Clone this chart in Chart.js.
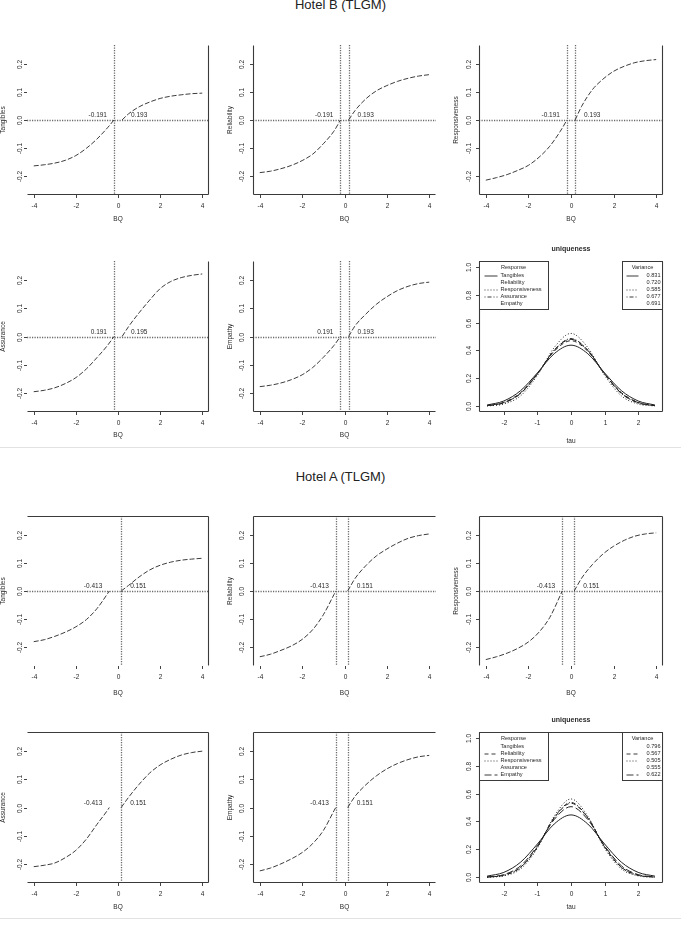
<!DOCTYPE html>
<html>
<head>
<meta charset="utf-8">
<script src="https://cdn.jsdelivr.net/npm/chart.js@4.4.1/dist/chart.umd.min.js"></script>
<style>
body { margin: 0; background: #fff; width: 681px; height: 933px; position: relative; overflow: hidden; font-family: "Liberation Sans", Arial, sans-serif; }
.title { position: absolute; left: 0; width: 681px; text-align: center; font-size: 13px; line-height: 16px; color: #222; }
.sep { position: absolute; left: 0; width: 681px; height: 1px; background: #e2e2e2; }
canvas { position: absolute; }
</style>
</head>
<body>
<div class="title" style="top:-3px">Hotel B (TLGM)</div>
<div class="sep" style="top:447px"></div>
<div class="title" style="top:469px">Hotel A (TLGM)</div>
<div class="sep" style="top:918px"></div>
<script>
// shared axes
const dims = ["Tangibles", "Reliability", "Responsiveness", "Assurance", "Empathy"];
const bqLowX = [-4, -3.5, -3, -2.5, -2, -1.5, -1, -0.5];
const bqHighX = [0.5, 1, 1.5, 2, 2.5, 3, 3.5, 4];
const bqTicks = [-4, -2, 0, 2, 4];
const bqTickLabels = ["-4", "-2", "0", "2", "4"];
const effTicks = [-0.2, -0.1, 0, 0.1, 0.2];
const effTickLabels = ["-0.2", "-0.1", "0.0", "0.1", "0.2"];
const tauX = [-2.5, -2, -1.5, -1, -0.5, 0, 0.5, 1, 1.5, 2, 2.5];
const tauTicks = [-2, -1, 0, 1, 2];
const densTicks = [0, 0.2, 0.4, 0.6, 0.8, 1.0];
const densTickLabels = ["0.0", "0.2", "0.4", "0.6", "0.8", "1.0"];

// Hotel B
const bThrLow = [-0.191, -0.191, -0.191, -0.191, -0.191];
const bThrHigh = [0.193, 0.193, 0.193, 0.195, 0.193];
const bLowText = ["-0.191", "-0.191", "-0.191", "0.191", "0.191"];
const bHighText = ["0.193", "0.193", "0.193", "0.195", "0.193"];
const bTangLow = [-0.164, -0.160, -0.154, -0.144, -0.127, -0.101, -0.068, -0.028];
const bTangHigh = [0.022, 0.047, 0.064, 0.077, 0.085, 0.090, 0.094, 0.096];
const bRelLow = [-0.188, -0.183, -0.174, -0.162, -0.145, -0.122, -0.085, -0.040];
const bRelHigh = [0.034, 0.075, 0.104, 0.123, 0.138, 0.149, 0.157, 0.162];
const bRespLow = [-0.215, -0.206, -0.195, -0.180, -0.162, -0.133, -0.094, -0.040];
const bRespHigh = [0.049, 0.108, 0.146, 0.174, 0.192, 0.205, 0.212, 0.216];
const bAssLow = [-0.196, -0.191, -0.182, -0.167, -0.146, -0.115, -0.075, -0.032];
const bAssHigh = [0.035, 0.084, 0.129, 0.170, 0.195, 0.209, 0.217, 0.222];
const bEmpLow = [-0.178, -0.173, -0.165, -0.153, -0.136, -0.110, -0.074, -0.032];
const bEmpHigh = [0.038, 0.079, 0.114, 0.141, 0.163, 0.178, 0.188, 0.193];
const bVariance = ["0.831", "0.720", "0.585", "0.677", "0.691"];
const bDens = [
  [0.010, 0.039, 0.113, 0.240, 0.377, 0.438, 0.377, 0.240, 0.113, 0.039, 0.010],
  [0.006, 0.029, 0.099, 0.235, 0.395, 0.470, 0.395, 0.235, 0.099, 0.029, 0.006],
  [0.003, 0.017, 0.076, 0.222, 0.421, 0.522, 0.421, 0.222, 0.076, 0.017, 0.003],
  [0.005, 0.025, 0.092, 0.232, 0.403, 0.485, 0.403, 0.232, 0.092, 0.025, 0.005],
  [0.005, 0.027, 0.094, 0.233, 0.401, 0.480, 0.401, 0.233, 0.094, 0.027, 0.005]
];

// Hotel A
const aThrLow = [-0.413, -0.413, -0.413, -0.413, -0.413];
const aThrHigh = [0.151, 0.151, 0.151, 0.151, 0.151];
const aLowText = ["-0.413", "-0.413", "-0.413", "-0.413", "-0.413"];
const aHighText = ["0.151", "0.151", "0.151", "0.151", "0.151"];
const aTangLow = [-0.181, -0.174, -0.162, -0.147, -0.128, -0.102, -0.063, -0.010];
const aTangHigh = [0.020, 0.050, 0.075, 0.092, 0.103, 0.110, 0.114, 0.117];
const aRelLow = [-0.235, -0.226, -0.212, -0.196, -0.173, -0.138, -0.085, -0.013];
const aRelHigh = [0.045, 0.090, 0.125, 0.150, 0.171, 0.188, 0.198, 0.204];
const aRespLow = [-0.245, -0.235, -0.222, -0.205, -0.182, -0.147, -0.095, -0.015];
const aRespHigh = [0.046, 0.094, 0.132, 0.160, 0.181, 0.196, 0.204, 0.208];
const aAssLow = [-0.210, -0.205, -0.197, -0.178, -0.152, -0.112, -0.060, -0.010];
const aAssHigh = [0.036, 0.082, 0.122, 0.151, 0.171, 0.186, 0.195, 0.200];
const aEmpLow = [-0.225, -0.215, -0.200, -0.182, -0.160, -0.128, -0.082, -0.012];
const aEmpHigh = [0.040, 0.080, 0.112, 0.137, 0.156, 0.170, 0.180, 0.185];
const aVariance = ["0.796", "0.567", "0.505", "0.555", "0.622"];
const aDens = [
  [0.009, 0.036, 0.109, 0.239, 0.382, 0.447, 0.382, 0.239, 0.109, 0.036, 0.009],
  [0.002, 0.016, 0.073, 0.219, 0.425, 0.530, 0.425, 0.219, 0.073, 0.016, 0.002],
  [0.001, 0.011, 0.061, 0.209, 0.438, 0.561, 0.438, 0.209, 0.061, 0.011, 0.001],
  [0.002, 0.015, 0.071, 0.218, 0.428, 0.536, 0.428, 0.218, 0.071, 0.015, 0.002],
  [0.003, 0.020, 0.083, 0.226, 0.414, 0.506, 0.414, 0.226, 0.083, 0.020, 0.003]
];

const lineDashes = [[], [4, 3], [1, 2], [1, 2, 4, 2], [7, 3]];
const ink = "#2a2a2a";
const font = px => px + 'px "Liberation Sans", Arial, sans-serif';

// R-like axes, boxes, notes and legends
const rAxes = {
  id: "rAxes",
  beforeDatasetsDraw(chart, args, o) {
    const { ctx, chartArea: a, scales: { x, y } } = chart;
    ctx.save();
    ctx.strokeStyle = "#6a6a6a";
    ctx.lineWidth = 1.3;
    ctx.setLineDash([1.2, 1.3]);
    if (o.hZero) {
      const py = Math.round(y.getPixelForValue(0)) + 0.5;
      ctx.beginPath(); ctx.moveTo(a.left, py); ctx.lineTo(a.right, py); ctx.stroke();
    }
    (o.vLines || []).forEach(v => {
      const px = Math.round(x.getPixelForValue(v)) + 0.5;
      ctx.beginPath(); ctx.moveTo(px, a.top); ctx.lineTo(px, a.bottom); ctx.stroke();
    });
    ctx.restore();
  },
  afterDraw(chart, args, o) {
    const { ctx, chartArea: a, scales: { x, y } } = chart;
    ctx.save();
    ctx.strokeStyle = "#3a3a3a";
    ctx.lineWidth = 1.1;
    const L = Math.round(a.left) + 0.5, R = Math.round(a.right) - 0.5;
    const T = Math.round(a.top) + 0.5, B = Math.round(a.bottom) - 0.5;
    ctx.beginPath();
    if (o.sides.includes("t")) { ctx.moveTo(L, T); ctx.lineTo(R, T); }
    if (o.sides.includes("b")) { ctx.moveTo(L, B); ctx.lineTo(R, B); }
    if (o.sides.includes("l")) { ctx.moveTo(L, T); ctx.lineTo(L, B); }
    if (o.sides.includes("r")) { ctx.moveTo(R, T); ctx.lineTo(R, B); }
    ctx.stroke();

    ctx.fillStyle = ink;
    ctx.strokeStyle = "#444";
    ctx.lineWidth = 1;
    ctx.font = font(6.5);
    // x ticks
    ctx.textAlign = "center"; ctx.textBaseline = "middle";
    o.xTicks.forEach((v, i) => {
      const px = Math.round(x.getPixelForValue(v)) + 0.5;
      ctx.beginPath(); ctx.moveTo(px, a.bottom); ctx.lineTo(px, a.bottom + 3); ctx.stroke();
      ctx.fillText(o.xLabels[i], px, a.bottom + 11.5);
    });
    // y ticks (rotated like R)
    o.yTicks.forEach((v, i) => {
      const py = Math.round(y.getPixelForValue(v)) + 0.5;
      ctx.beginPath(); ctx.moveTo(a.left - 3, py); ctx.lineTo(a.left, py); ctx.stroke();
      ctx.save();
      ctx.translate(a.left - o.yLabOff, py);
      ctx.rotate(-Math.PI / 2);
      ctx.fillText(o.yLabels[i], 0, 0);
      ctx.restore();
    });
    // axis titles
    ctx.fillText(o.xTitle, (a.left + a.right) / 2, a.bottom + o.xTitleOff);
    if (o.yTitle) {
      ctx.save();
      ctx.translate(a.left - o.yTitleOff, (a.top + a.bottom) / 2);
      ctx.rotate(-Math.PI / 2);
      ctx.fillText(o.yTitle, 0, 0);
      ctx.restore();
    }
    if (o.main) {
      ctx.font = "bold " + font(7);
      ctx.fillText(o.main, (a.left + a.right) / 2, a.top - 12);
      ctx.font = font(6.5);
    }
    // threshold notes
    (o.notes || []).forEach(n => {
      const px = x.getPixelForValue(n.v), py = y.getPixelForValue(0) - 4.5;
      ctx.textAlign = n.side === "l" ? "right" : "left";
      ctx.fillText(n.text, n.side === "l" ? px - 7 : px + 9, py);
    });
    // legends
    if (o.legend) {
      const lg = o.legend;
      ctx.fillStyle = "#fff";
      ctx.strokeStyle = "#3a3a3a";
      ctx.lineWidth = 1;
      ctx.setLineDash([]);
      const bx = [L, T, 69, 48], vx = [R - 40, T, 40, 48];
      [bx, vx].forEach(b => { ctx.fillRect(b[0], b[1], b[2], b[3]); ctx.strokeRect(b[0], b[1], b[2], b[3]); });
      ctx.fillStyle = ink;
      ctx.font = font(5.6);
      ctx.textAlign = "center";
      ctx.fillText("Response", L + 34, T + 5.5);
      ctx.fillText("Variance", R - 20, T + 5.5);
      lg.names.forEach((nm, i) => {
        const ry = T + 14 + i * 7;
        ctx.textAlign = "left";
        ctx.fillText(nm, L + 21, ry);
        ctx.textAlign = "right";
        ctx.fillText(lg.values[i], R - 2, ry);
        if (lg.shown[i]) {
          ctx.setLineDash(lineDashes[i]);
          ctx.beginPath(); ctx.moveTo(L + 5, ry + 0.5); ctx.lineTo(L + 18, ry + 0.5); ctx.stroke();
          ctx.beginPath(); ctx.moveTo(R - 36, ry + 0.5); ctx.lineTo(R - 24, ry + 0.5); ctx.stroke();
        }
      });
    }
    ctx.restore();
  }
};

function makeChart(rect, datasets, xr, yr, opts) {
  const m = { l: 34, r: 10, t: 22, b: 36 };
  const c = document.createElement("canvas");
  c.width = rect[2] - rect[0] + m.l + m.r;
  c.height = rect[3] - rect[1] + m.t + m.b;
  c.style.left = (rect[0] - m.l) + "px";
  c.style.top = (rect[1] - m.t) + "px";
  document.body.appendChild(c);
  new Chart(c, {
    type: "line",
    data: { datasets },
    options: {
      responsive: false,
      animation: false,
      layout: { padding: { left: m.l, right: m.r, top: m.t, bottom: m.b } },
      scales: {
        x: { type: "linear", min: xr[0], max: xr[1], display: false },
        y: { type: "linear", min: yr[0], max: yr[1], display: false }
      },
      plugins: { legend: { display: false }, tooltip: { enabled: false }, rAxes: opts }
    },
    plugins: [rAxes]
  });
}

const cols = [[27, 209], [253, 436], [479, 663]];
const yLabOff = [7, 11, 10];
const yTitleOff = [24, 23, 23];

function curveSet(low, high, thrLow, thrHigh) {
  const style = { borderColor: "#3c3c3c", borderWidth: 1, borderDash: [5, 2], pointRadius: 0, fill: false, cubicInterpolationMode: "monotone" };
  const left = bqLowX.map((v, i) => ({ x: v, y: low[i] })).concat([{ x: thrLow, y: 0 }]);
  const right = [{ x: thrHigh, y: 0 }].concat(bqHighX.map((v, i) => ({ x: v, y: high[i] })));
  return [Object.assign({ data: left }, style), Object.assign({ data: right }, style)];
}

function bqPanel(col, rowY, name, low, high, thrLow, thrHigh, lowText, highText, vLines, hZero, sides, xTitleOff) {
  makeChart([cols[col][0], rowY[0], cols[col][1], rowY[1]], curveSet(low, high, thrLow, thrHigh),
    [-4.32, 4.32], [-0.268, 0.268], {
      sides, xTicks: bqTicks, xLabels: bqTickLabels, yTicks: effTicks, yLabels: effTickLabels,
      yLabOff: yLabOff[col], yTitleOff: yTitleOff[col], xTitle: "BQ", xTitleOff, yTitle: name,
      hZero, vLines,
      notes: [{ text: lowText, v: thrLow, side: "l" }, { text: highText, v: thrHigh, side: "r" }]
    });
}

function densPanel(rowY, dens, values, shown, sides, xTitleOff) {
  const sets = dens.map((d, i) => ({
    data: tauX.map((v, j) => ({ x: v, y: d[j] })),
    borderColor: "#222", borderWidth: 1, borderDash: lineDashes[i], pointRadius: 0, fill: false,
    cubicInterpolationMode: "monotone"
  }));
  makeChart([cols[2][0], rowY[0], cols[2][1], rowY[1]], sets, [-2.74, 2.74], [-0.04, 1.04], {
    sides, xTicks: tauTicks, xLabels: tauTicks.map(String), yTicks: densTicks, yLabels: densTickLabels,
    yLabOff: 10, xTitle: "tau", xTitleOff, main: "uniqueness",
    legend: { names: dims, values, shown }
  });
}

// Hotel B
const bRow1 = [45, 195], bRow2 = [261, 412];
bqPanel(0, bRow1, dims[0], bTangLow, bTangHigh, bThrLow[0], bThrHigh[0], bLowText[0], bHighText[0], [bThrLow[0]], true, "br", 24);
bqPanel(1, bRow1, dims[1], bRelLow, bRelHigh, bThrLow[1], bThrHigh[1], bLowText[1], bHighText[1], [bThrLow[1], bThrHigh[1]], true, "lb", 24);
bqPanel(2, bRow1, dims[2], bRespLow, bRespHigh, bThrLow[2], bThrHigh[2], bLowText[2], bHighText[2], [bThrLow[2], bThrHigh[2]], true, "lbr", 24);
bqPanel(0, bRow2, dims[3], bAssLow, bAssHigh, bThrLow[3], bThrHigh[3], bLowText[3], bHighText[3], [bThrLow[3]], true, "br", 23);
bqPanel(1, bRow2, dims[4], bEmpLow, bEmpHigh, bThrLow[4], bThrHigh[4], bLowText[4], bHighText[4], [bThrLow[4], bThrHigh[4]], true, "lb", 23);
densPanel(bRow2, bDens, bVariance, [true, false, true, true, false], "lbr", 29);

// Hotel A
const aRow1 = [516, 666], aRow2 = [732, 883];
bqPanel(0, aRow1, dims[0], aTangLow, aTangHigh, aThrLow[0], aThrHigh[0], aLowText[0], aHighText[0], [aThrHigh[0]], true, "tr", 27);
bqPanel(1, aRow1, dims[1], aRelLow, aRelHigh, aThrLow[1], aThrHigh[1], aLowText[1], aHighText[1], [aThrLow[1], aThrHigh[1]], true, "tl", 27);
bqPanel(2, aRow1, dims[2], aRespLow, aRespHigh, aThrLow[2], aThrHigh[2], aLowText[2], aHighText[2], [aThrLow[2], aThrHigh[2]], true, "tlr", 27);
bqPanel(0, aRow2, dims[3], aAssLow, aAssHigh, aThrLow[3], aThrHigh[3], aLowText[3], aHighText[3], [aThrHigh[3]], false, "trb", 24);
bqPanel(1, aRow2, dims[4], aEmpLow, aEmpHigh, aThrLow[4], aThrHigh[4], aLowText[4], aHighText[4], [aThrLow[4], aThrHigh[4]], false, "tlb", 24);
densPanel(aRow2, aDens, aVariance, [false, true, true, false, true], "tlbr", 24);
</script>
</body>
</html>
